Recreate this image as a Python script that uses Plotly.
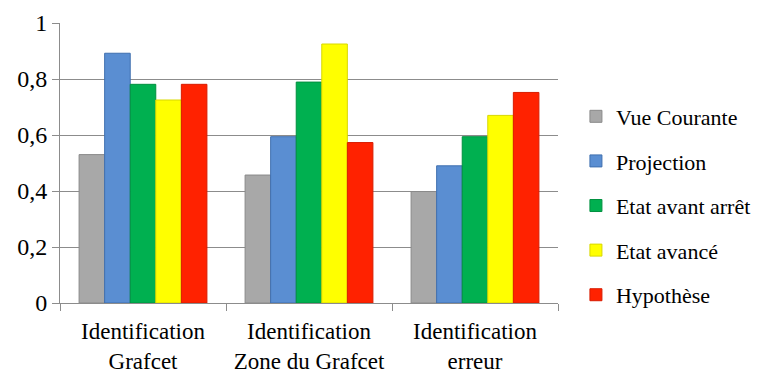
import plotly.graph_objects as go

categories = ["Identification<br>Grafcet", "Identification<br>Zone du Grafcet", "Identification<br>erreur"]
series_names = ["Vue Courante", "Projection", "Etat avant arrêt", "Etat avancé", "Hypothèse"]
vue_courante = [0.53, 0.457, 0.398]
projection = [0.892, 0.594, 0.49]
etat_avant_arret = [0.781, 0.789, 0.594]
etat_avance = [0.725, 0.925, 0.67]
hypothese = [0.781, 0.573, 0.752]
y_ticks = [0, 0.2, 0.4, 0.6, 0.8, 1]

series_values = [vue_courante, projection, etat_avant_arret, etat_avance, hypothese]
colors = ["#A8A8A8", "#5A8ED2", "#00B050", "#FFFF00", "#FF2200"]
outlines = ["#8A8A8A", "#3F6FAF", "#00903F", "#D8D800", "#D81C00"]

fig = go.Figure()
for i, (name, vals) in enumerate(zip(series_names, series_values)):
    fig.add_trace(go.Bar(
        x=categories, y=vals, name=name, legendgroup=name,
        marker=dict(color=colors[i], line=dict(color=outlines[i], width=1)),
    ))

font_family = "Liberation Serif"
fig.update_layout(
    width=760, height=368,
    margin=dict(l=52, r=210, t=15, b=73, autoexpand=False),
    paper_bgcolor="white", plot_bgcolor="white",
    separators=", ",
    barmode="group", bargap=0.23, bargroupgap=0,
    font=dict(family=font_family, color="black", size=20),
    legend=dict(
        x=1.036, y=0.741, xanchor="left", yanchor="top",
        font=dict(family=font_family, size=22, color="black"),
        tracegroupgap=13, itemwidth=30,
    ),
    showlegend=True,
)
fig.update_xaxes(
    showline=True, linecolor="#8C8C8C", linewidth=1,
    ticks="outside", tickson="boundaries", ticklen=7, tickcolor="#8C8C8C",
    tickfont=dict(family=font_family, size=23, color="black"),
    ticklabelstandoff=7,
    showgrid=False, automargin=False,
)
fig.update_yaxes(
    range=[0, 1], tickvals=y_ticks,
    showline=True, linecolor="#8C8C8C", linewidth=1,
    ticks="outside", ticklen=7, tickcolor="#8C8C8C",
    showgrid=True, gridcolor="#8C8C8C", gridwidth=1,
    zeroline=False, automargin=False,
    tickfont=dict(family=font_family, size=24, color="black"),
)

fig.write_html("out.html")
